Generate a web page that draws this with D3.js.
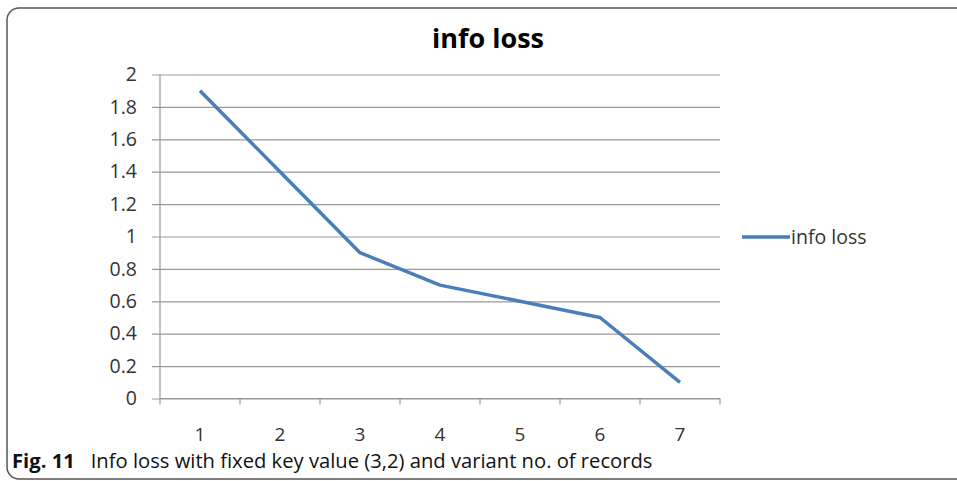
<!DOCTYPE html>
<html>
<head>
<meta charset="utf-8">
<script src="https://cdn.jsdelivr.net/npm/d3@7"></script>
<style>
  html, body { margin: 0; padding: 0; background: #fff; }
  svg { display: block; }
</style>
</head>
<body>
<script>
// Info loss per record-count setting
const categories = ["1", "2", "3", "4", "5", "6", "7"];
const infoLoss = [1.9, 1.4, 0.9, 0.7, 0.6, 0.5, 0.1];
const yTicks = [0, 0.2, 0.4, 0.6, 0.8, 1, 1.2, 1.4, 1.6, 1.8, 2];
const seriesName = "info loss";
const titleText = "info loss";
const captionLabel = "Fig. 11";
const captionText = "Info loss with fixed key value (3,2) and variant no. of records";

const W = 957, H = 481;
const font = "'Open Sans', 'Noto Sans', sans-serif";

const svg = d3.select("body").append("svg")
  .attr("width", W).attr("height", H);

// Frame
svg.append("rect")
  .attr("x", 7).attr("y", 8)
  .attr("width", 1000).attr("height", 471)
  .attr("rx", 12).attr("ry", 12)
  .attr("fill", "none")
  .attr("stroke", "#555").attr("stroke-width", 1.5);

const plot = { left: 160, right: 720, top: 74.5, bottom: 398.5 };

const x = d3.scaleBand().domain(categories).range([plot.left, plot.right]);
const y = d3.scaleLinear().domain([0, 2]).range([plot.bottom, plot.top]);

// Horizontal gridlines with outward ticks
const yAxis = d3.axisLeft(y)
  .tickValues(yTicks)
  .tickSize(-(plot.right - plot.left))
  .tickSizeOuter(0)
  .tickPadding(23)
  .tickFormat(d3.format("~g"));

const gy = svg.append("g")
  .attr("transform", `translate(${plot.left},0)`)
  .call(yAxis);
gy.select(".domain").remove();
gy.selectAll(".tick line")
  .attr("x1", -8)
  .attr("stroke", "#999").attr("stroke-width", 1.2);
gy.selectAll(".tick text")
  .attr("font-family", font).attr("font-size", 19.5)
  .attr("fill", "#333");

// Vertical axis line
svg.append("line")
  .attr("x1", plot.left).attr("x2", plot.left)
  .attr("y1", plot.top).attr("y2", plot.bottom)
  .attr("stroke", "#999").attr("stroke-width", 1.2);

// Category axis: tick marks at band boundaries
const gx = svg.append("g")
  .attr("transform", `translate(0,${plot.bottom})`);
gx.append("line")
  .attr("x1", plot.left).attr("x2", plot.right)
  .attr("stroke", "#999").attr("stroke-width", 1.2);
const bounds = categories.map(c => x(c)).concat([x(categories[categories.length - 1]) + x.bandwidth()]);
gx.selectAll("line.tk").data(bounds).join("line")
  .attr("class", "tk")
  .attr("x1", d => d).attr("x2", d => d)
  .attr("y1", 0).attr("y2", 6)
  .attr("stroke", "#999").attr("stroke-width", 1.2);
gx.selectAll("text").data(categories).join("text")
  .attr("x", d => x(d) + x.bandwidth() / 2)
  .attr("y", 42)
  .attr("text-anchor", "middle")
  .attr("font-family", font).attr("font-size", 19)
  .attr("fill", "#333")
  .text(d => d);

// Series line
const line = d3.line()
  .x((d, i) => x(categories[i]) + x.bandwidth() / 2)
  .y(d => y(d));
svg.append("path")
  .datum(infoLoss)
  .attr("d", line)
  .attr("fill", "none")
  .attr("stroke", "#4a7ebb")
  .attr("stroke-width", 3.5)
  .attr("stroke-linejoin", "round");

// Title
svg.append("text")
  .attr("x", 488).attr("y", 48)
  .attr("text-anchor", "middle")
  .attr("font-family", font).attr("font-size", 27)
  .attr("font-weight", "bold")
  .attr("fill", "#000")
  .text(titleText);

// Legend
svg.append("line")
  .attr("x1", 742).attr("x2", 790)
  .attr("y1", 237).attr("y2", 237)
  .attr("stroke", "#4a7ebb").attr("stroke-width", 3.5);
svg.append("text")
  .attr("x", 791).attr("y", 244)
  .attr("font-family", font).attr("font-size", 19.5)
  .attr("fill", "#333")
  .text(seriesName);

// Caption
const cap = svg.append("text")
  .attr("x", 12).attr("y", 468)
  .attr("font-family", font).attr("font-size", 20.2)
  .attr("fill", "#111");
cap.append("tspan").attr("font-weight", "bold").text(captionLabel);
cap.append("tspan").attr("dx", 16).text(captionText);
</script>
</body>
</html>
